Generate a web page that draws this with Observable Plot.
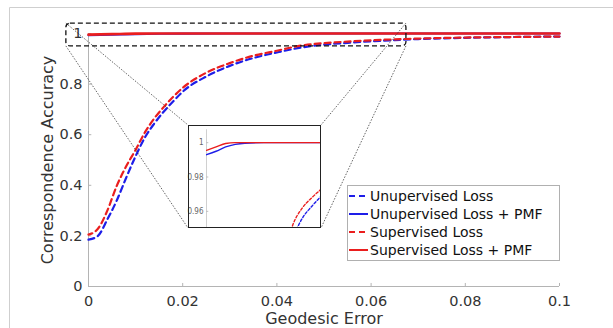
<!DOCTYPE html>
<html>
<head>
<meta charset="utf-8">
<script src="https://cdn.jsdelivr.net/npm/d3@7"></script>
<script src="https://cdn.jsdelivr.net/npm/@observablehq/plot@0.6"></script>
<style>
  html, body { margin: 0; padding: 0; background: #fff; }
  #chart { position: relative; width: 613px; height: 328px; overflow: hidden; }
  #chart svg { font-family: "DejaVu Sans", sans-serif; }
  #inset { position: absolute; left: 188px; top: 125px; width: 133px; height: 103px; }
  #inset svg { position: absolute; left: 0; top: 0; }
</style>
</head>
<body>
<div id="chart"><div id="inset"></div></div>
<script>
// ---- Data ----
const xs = [0, 0.002, 0.004, 0.006, 0.008, 0.01, 0.012, 0.014, 0.016, 0.018, 0.02, 0.025, 0.03, 0.035, 0.04, 0.045, 0.05, 0.055, 0.06, 0.065, 0.07, 0.08, 0.09, 0.1];
const unsupLoss = [0.185, 0.20, 0.265, 0.34, 0.43, 0.515, 0.59, 0.645, 0.692, 0.732, 0.77, 0.83, 0.872, 0.903, 0.925, 0.944, 0.956, 0.963, 0.969, 0.974, 0.978, 0.983, 0.986, 0.988];
const supLoss   = [0.205, 0.228, 0.30, 0.398, 0.475, 0.54, 0.61, 0.665, 0.71, 0.75, 0.785, 0.845, 0.883, 0.912, 0.932, 0.952, 0.962, 0.968, 0.973, 0.977, 0.98, 0.984, 0.986, 0.988];
const xsPmf = [0, 0.005, 0.01, 0.015, 0.02, 0.03, 0.04, 0.05, 0.06, 0.07, 0.08, 0.09, 0.1];
const unsupPmf = [0.993, 0.995, 0.9975, 0.999, 0.9997, 1.0, 1.0, 1.0, 1.0, 1.0, 1.0, 1.0, 1.0];
const supPmf   = [0.9955, 0.9975, 0.9995, 1.0, 1.0, 1.0, 1.0, 1.0, 1.0, 1.0, 1.0, 1.0, 1.0];

const seriesNames = ["Unupervised Loss", "Unupervised Loss + PMF", "Supervised Loss", "Supervised Loss + PMF"];
const xTicks = [0, 0.02, 0.04, 0.06, 0.08, 0.1];
const yTicks = [0, 0.2, 0.4, 0.6, 0.8, 1];
const insetYTicks = [0.96, 0.98, 1];
const xLabel = "Geodesic Error";
const yLabel = "Correspondence Accuracy";

// zoom region shown in the inset (data units of main chart)
const zoomX = [-0.0047, 0.0675];
const zoomY = [0.949, 1.039];
const insetDomainX = [0, 0.06];
const insetDomainY = [0.95, 1.01];

// ---- Styles ----
const BLUE = "#1e1ee8", RED = "#ea1e1e";
const AXIS = "#b4b4b4", TEXT = "#333";

const dashed = d3.zip(xs, unsupLoss).map(([x, y]) => ({x, y, s: seriesNames[0]}))
  .concat(d3.zip(xs, supLoss).map(([x, y]) => ({x, y, s: seriesNames[2]})));
const solid = d3.zip(xsPmf, unsupPmf).map(([x, y]) => ({x, y, s: seriesNames[1]}))
  .concat(d3.zip(xsPmf, supPmf).map(([x, y]) => ({x, y, s: seriesNames[3]})));
const pick = (arr, name) => arr.filter(d => d.s === name);

const W = 613, H = 328;
const mL = 88, mR = 54, mT = 33, mB = 42;

const main = Plot.plot({
  width: W, height: H,
  marginLeft: mL, marginRight: mR, marginTop: mT, marginBottom: mB,
  x: {domain: [0, 0.1], axis: null},
  y: {domain: [0, 1], axis: null},
  style: {fontFamily: "DejaVu Sans, sans-serif", color: TEXT, background: "transparent", overflow: "visible"},
  marks: [
    Plot.ruleY([0], {x1: 0, x2: 0.1, stroke: AXIS, strokeWidth: 1}),
    Plot.ruleX([0], {y1: 0, y2: 1, stroke: AXIS, strokeWidth: 1}),
    Plot.ruleX(xTicks, {y1: 0, y2: 0.012, stroke: AXIS}),
    Plot.ruleY(yTicks, {x1: 0, x2: 0.0007, stroke: AXIS}),
    Plot.axisX(xTicks, {tickSize: 0, tickPadding: 9, fontSize: 14.5, fill: TEXT, tickFormat: d => String(d), label: null}),
    Plot.axisY(yTicks, {tickSize: 0, tickPadding: 6, fontSize: 14.5, fill: TEXT, tickFormat: d => String(d), label: null}),
    Plot.text([xLabel], {frameAnchor: "bottom", lineAnchor: "middle", dy: 32, text: d => d, fontSize: 16, fill: TEXT}),
    Plot.text([yLabel], {frameAnchor: "left", textAnchor: "middle", lineAnchor: "middle", dx: -41, rotate: -90, text: d => d, fontSize: 16, fill: TEXT}),
    Plot.line(pick(dashed, seriesNames[0]), {x: "x", y: "y", stroke: BLUE, strokeWidth: 2.2, strokeDasharray: "6,4", curve: "monotone-x"}),
    Plot.line(pick(solid, seriesNames[1]), {x: "x", y: "y", stroke: BLUE, strokeWidth: 2.2, curve: "monotone-x"}),
    Plot.line(pick(dashed, seriesNames[2]), {x: "x", y: "y", stroke: RED, strokeWidth: 2.2, strokeDasharray: "6,4", strokeDashoffset: 2, curve: "monotone-x"}),
    Plot.line(pick(solid, seriesNames[3]), {x: "x", y: "y", stroke: RED, strokeWidth: 2.6, curve: "monotone-x"}),
    Plot.rect([{}], {x1: zoomX[0], x2: zoomX[1], y1: zoomY[0], y2: zoomY[1], fill: "none", stroke: "#111", strokeWidth: 1.3, strokeDasharray: "5,3", rx: 4})
  ]
});

// inset plot
const inset = {left: 188, top: 125, width: 133, height: 103, axisOffset: 18};
const insetPlot = Plot.plot({
  width: inset.width, height: inset.height,
  marginLeft: inset.axisOffset, marginRight: 0, marginTop: 0, marginBottom: 0,
  x: {domain: insetDomainX, axis: null},
  y: {domain: insetDomainY, axis: null},
  style: {fontFamily: "DejaVu Sans Condensed, DejaVu Sans, sans-serif", background: "white", overflow: "visible"},
  marks: [
    Plot.ruleX([0], {y1: insetDomainY[0], y2: 1.0075, stroke: "#d0d0d0"}),
    Plot.ruleY(insetYTicks, {x1: 0, x2: 0.0012, stroke: "#c0c0c0"}),
    Plot.axisY(insetYTicks, {tickSize: 0, tickPadding: 3, fontSize: 8, fill: "#666", tickFormat: d => String(d), label: null}),
    Plot.line(pick(dashed, seriesNames[0]), {x: "x", y: "y", stroke: BLUE, strokeWidth: 1.4, strokeDasharray: "2.5,2", curve: "monotone-x", clip: true}),
    Plot.line(pick(solid, seriesNames[1]), {x: "x", y: "y", stroke: BLUE, strokeWidth: 1.4, curve: "monotone-x", clip: true}),
    Plot.line(pick(dashed, seriesNames[2]), {x: "x", y: "y", stroke: RED, strokeWidth: 1.4, strokeDasharray: "2.5,2", curve: "monotone-x", clip: true}),
    Plot.line(pick(solid, seriesNames[3]), {x: "x", y: "y", stroke: RED, strokeWidth: 1.4, curve: "monotone-x", clip: true})
  ]
});

const svg = d3.select(main);
const sx = main.scale("x"), sy = main.scale("y");
const rx1 = sx.apply(zoomX[0]), rx2 = sx.apply(zoomX[1]);
const ry1 = sy.apply(zoomY[1]), ry2 = sy.apply(zoomY[0]);
const ix1 = inset.left, ix2 = inset.left + inset.width, iy1 = inset.top, iy2 = inset.top + inset.height;

// outer figure frame
svg.insert("path", ":first-child").attr("d", `M9.5,${H} V7.5 H${W}`).attr("fill", "none").attr("stroke", "#cfcfcf");

// connectors
const conn = svg.append("g").attr("stroke", "#222").attr("stroke-width", 0.7).attr("stroke-dasharray", "1.5,1.5").attr("fill", "none");
[[rx1, ry1, ix1, iy1], [rx1, ry2, ix1, iy2], [rx2, ry1, ix2, iy1], [rx2, ry2, ix2, iy2]].forEach(([a, b, c, d]) => {
  conn.append("line").attr("x1", a).attr("y1", b).attr("x2", c).attr("y2", d);
});

// legend
const leg = {x: 347, y: 185, w: 212, h: 75, row: 18, first: 11};
const lg = svg.append("g").attr("transform", `translate(${leg.x},${leg.y})`).attr("text-anchor", "start");
lg.append("rect").attr("x", 0.5).attr("y", 0.5).attr("width", leg.w).attr("height", leg.h).attr("fill", "white").attr("stroke", "#b0b0b0");
const legStyles = [[BLUE, "6,4"], [BLUE, null], [RED, "6,4"], [RED, null]];
seriesNames.forEach((name, i) => {
  const cy = leg.first + i * leg.row;
  lg.append("line").attr("x1", 2).attr("x2", 21).attr("y1", cy).attr("y2", cy)
    .attr("stroke", legStyles[i][0]).attr("stroke-width", 2).attr("stroke-dasharray", legStyles[i][1]);
  lg.append("text").attr("x", 23).attr("y", cy).attr("dy", "0.36em").attr("font-size", 14).attr("fill", "#111").text(name);
});

const chart = document.getElementById("chart");
chart.insertBefore(main, chart.firstChild);
const insetDiv = document.getElementById("inset");
insetDiv.appendChild(insetPlot);
d3.select(insetDiv).append("div")
  .style("position", "absolute").style("left", "0").style("top", "0")
  .style("width", inset.width + "px").style("height", inset.height + "px")
  .style("box-sizing", "border-box").style("border", "1.6px solid #222");
</script>
</body>
</html>
